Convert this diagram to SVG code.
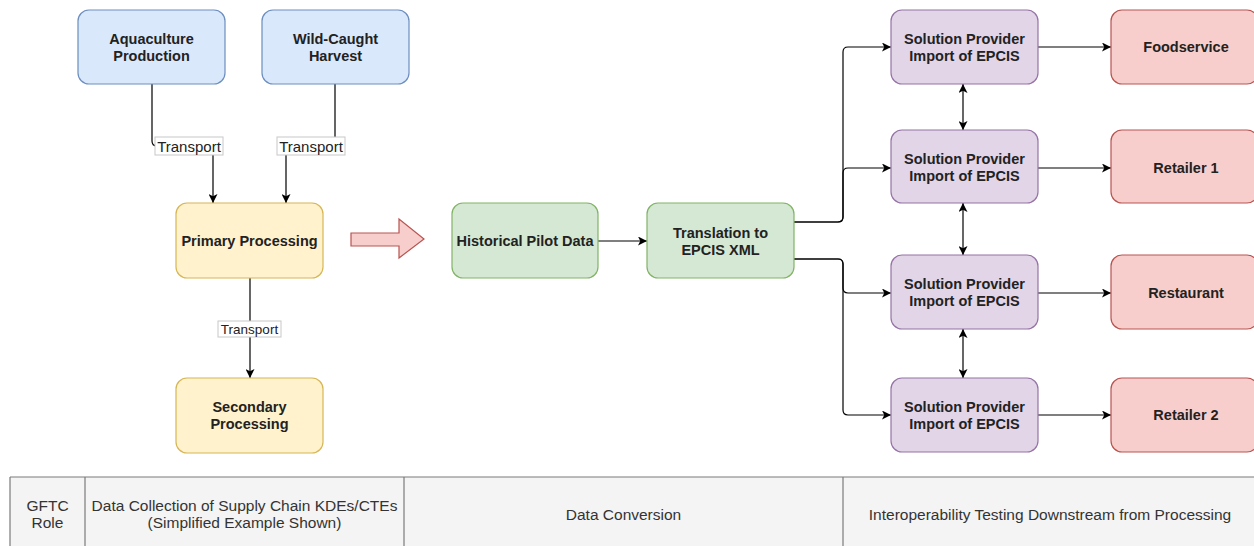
<svg xmlns="http://www.w3.org/2000/svg" width="1254" height="546" viewBox="0 0 1254 546">
  <style>
    .node rect { stroke-width: 1.2; }
    .blue rect { fill: #dae8fc; stroke: #6c8ebf; }
    .yellow rect { fill: #fff2cc; stroke: #d6b656; }
    .green rect { fill: #d5e8d4; stroke: #82b366; }
    .purple rect { fill: #e1d5e7; stroke: #9673a6; }
    .red rect { fill: #f8cecc; stroke: #b85450; }
    .node text { font-family: "Liberation Sans", Arial, sans-serif; font-size: 14.5px; font-weight: bold; fill: #222; text-anchor: middle; }
    .edge { fill: none; stroke: #000; stroke-width: 1.2; }
    .lbl rect { fill: #fff; stroke: #c8c8c8; stroke-width: 1; }
    .lbl text { font-family: "Liberation Sans", Arial, sans-serif; fill: #222; text-anchor: middle; }
    .tbl text { font-family: "Liberation Sans", Arial, sans-serif; font-size: 15.5px; fill: #333; text-anchor: middle; }
    .tbl line { stroke: #7a7a7a; stroke-width: 1.2; }
  </style>
  <defs>
    <marker id="arr" viewBox="0 0 10 10" refX="10" refY="5" markerWidth="9" markerHeight="9" markerUnits="userSpaceOnUse" orient="auto-start-reverse">
      <path d="M0 0 L10 5 L0 10 L2.5 5 Z" fill="#000"/>
    </marker>
  </defs>

  <rect width="1254" height="546" fill="#fff"/>

  <!-- connectors -->
  <g id="connectors">
    <path class="edge" d="M152 84 V141 Q152 146 157 146 H208 Q213 146 213 151 V203" marker-end="url(#arr)"/>
    <path class="edge" d="M335 84 V141 Q335 146 330 146 H291 Q286 146 286 151 V203" marker-end="url(#arr)"/>
    <path class="edge" d="M250 278 V378" marker-end="url(#arr)"/>
    <path class="edge" d="M598 241 H647" marker-end="url(#arr)"/>
    <path class="edge" d="M794 222 H838 Q843 222 843 217 V52 Q843 47 848 47 H891" marker-end="url(#arr)"/>
    <path class="edge" d="M794 222 H838 Q843 222 843 217 V173 Q843 168 848 168 H891" marker-end="url(#arr)"/>
    <path class="edge" d="M794 259 H838 Q843 259 843 264 V288 Q843 293 848 293 H891" marker-end="url(#arr)"/>
    <path class="edge" d="M794 259 H838 Q843 259 843 264 V410 Q843 415 848 415 H891" marker-end="url(#arr)"/>
    <path class="edge" d="M1038 47 H1111" marker-end="url(#arr)"/>
    <path class="edge" d="M1038 168 H1111" marker-end="url(#arr)"/>
    <path class="edge" d="M1038 293 H1111" marker-end="url(#arr)"/>
    <path class="edge" d="M1038 415 H1111" marker-end="url(#arr)"/>
    <path class="edge" d="M963 84 V130" marker-start="url(#arr)" marker-end="url(#arr)"/>
    <path class="edge" d="M963 203 V255" marker-start="url(#arr)" marker-end="url(#arr)"/>
    <path class="edge" d="M963 329 V378" marker-start="url(#arr)" marker-end="url(#arr)"/>

    <g class="lbl">
      <rect x="155" y="137" width="68" height="18"/>
      <text x="189" y="151.5" font-size="15">Transport</text>
      <rect x="277" y="137" width="68" height="18"/>
      <text x="311" y="151.5" font-size="15">Transport</text>
      <rect x="218" y="321" width="63" height="16"/>
      <text x="249.5" y="334" font-size="13.5">Transport</text>
    </g>
  </g>

  <!-- conversion arrow -->
  <path id="flow-arrow" d="M351 233 H399 V219 L424 239 L399 258 V246 H351 Z" fill="#f8cecc" stroke="#b85450" stroke-width="1.2"/>

  <!-- supply chain nodes -->
  <g id="aquaculture" class="node blue">
    <rect x="78" y="10" width="147" height="74" rx="11"/>
    <text x="151.5" y="43.5">Aquaculture</text>
    <text x="151.5" y="60.5">Production</text>
  </g>
  <g id="wild-caught" class="node blue">
    <rect x="262" y="10" width="147" height="74" rx="11"/>
    <text x="335.5" y="43.5">Wild-Caught</text>
    <text x="335.5" y="60.5">Harvest</text>
  </g>
  <g id="primary" class="node yellow">
    <rect x="176" y="203" width="147" height="75" rx="11"/>
    <text x="249.5" y="246">Primary Processing</text>
  </g>
  <g id="secondary" class="node yellow">
    <rect x="176" y="378" width="147" height="75" rx="11"/>
    <text x="249.5" y="412">Secondary</text>
    <text x="249.5" y="429">Processing</text>
  </g>

  <!-- conversion nodes -->
  <g id="historical" class="node green">
    <rect x="452" y="203" width="146" height="75" rx="11"/>
    <text x="525" y="246">Historical Pilot Data</text>
  </g>
  <g id="translation" class="node green">
    <rect x="647" y="203" width="147" height="75" rx="11"/>
    <text x="720.5" y="237.5">Translation to</text>
    <text x="720.5" y="254.5">EPCIS XML</text>
  </g>

  <!-- solution providers -->
  <g id="sp1" class="node purple">
    <rect x="891" y="10" width="147" height="74" rx="11"/>
    <text x="964.5" y="43.5">Solution Provider</text>
    <text x="964.5" y="60.5">Import of EPCIS</text>
  </g>
  <g id="sp2" class="node purple">
    <rect x="891" y="130" width="147" height="73" rx="11"/>
    <text x="964.5" y="164">Solution Provider</text>
    <text x="964.5" y="181">Import of EPCIS</text>
  </g>
  <g id="sp3" class="node purple">
    <rect x="891" y="255" width="147" height="74" rx="11"/>
    <text x="964.5" y="289">Solution Provider</text>
    <text x="964.5" y="306">Import of EPCIS</text>
  </g>
  <g id="sp4" class="node purple">
    <rect x="891" y="378" width="147" height="74" rx="11"/>
    <text x="964.5" y="411.5">Solution Provider</text>
    <text x="964.5" y="428.5">Import of EPCIS</text>
  </g>

  <!-- downstream partners -->
  <g id="foodservice" class="node red">
    <rect x="1111" y="10" width="147" height="74" rx="11"/>
    <text x="1186" y="52">Foodservice</text>
  </g>
  <g id="retailer1" class="node red">
    <rect x="1111" y="130" width="147" height="73" rx="11"/>
    <text x="1186" y="173">Retailer 1</text>
  </g>
  <g id="restaurant" class="node red">
    <rect x="1111" y="255" width="147" height="74" rx="11"/>
    <text x="1186" y="298">Restaurant</text>
  </g>
  <g id="retailer2" class="node red">
    <rect x="1111" y="378" width="147" height="74" rx="11"/>
    <text x="1186" y="420">Retailer 2</text>
  </g>

  <!-- role table -->
  <g id="role-table" class="tbl">
    <rect x="10" y="477" width="1250" height="75" fill="#f4f4f4"/>
    <line x1="10" y1="477" x2="1254" y2="477"/>
    <line x1="10" y1="477" x2="10" y2="546"/>
    <line x1="85" y1="477" x2="85" y2="546"/>
    <line x1="404" y1="477" x2="404" y2="546"/>
    <line x1="843" y1="477" x2="843" y2="546"/>
    <text x="47.5" y="510.5">GFTC</text>
    <text x="47.5" y="527.5">Role</text>
    <text x="244.5" y="510.5">Data Collection of Supply Chain KDEs/CTEs</text>
    <text x="244.5" y="527.5">(Simplified Example Shown)</text>
    <text x="623.5" y="519.5">Data Conversion</text>
    <text x="1050" y="519.5">Interoperability Testing Downstream from Processing</text>
  </g>
</svg>
